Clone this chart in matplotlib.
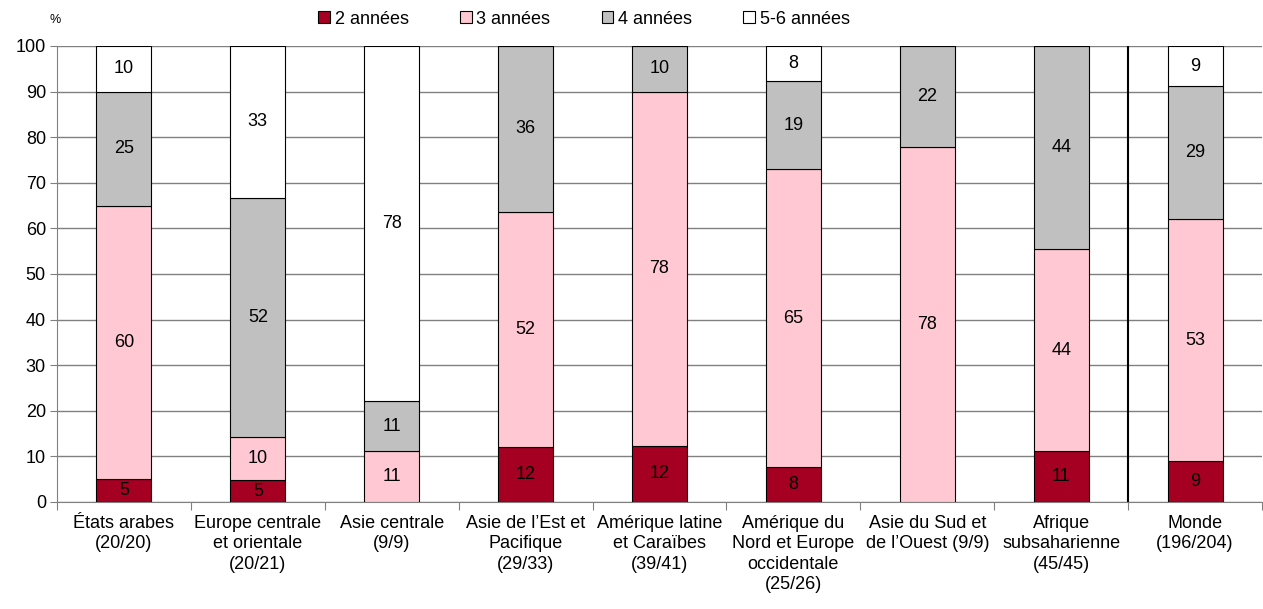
import matplotlib.pyplot as plt
from matplotlib.patches import Patch

plt.rcParams['font.family'] = ['Liberation Sans', 'DejaVu Sans']

# régions et nombre de pays (avec données / total)
regions = ["États arabes\n(20/20)", "Europe centrale\net orientale\n(20/21)", "Asie centrale\n(9/9)",
           "Asie de l’Est et\nPacifique\n(29/33)", "Amérique latine\net Caraïbes\n(39/41)",
           "Amérique du\nNord et Europe\noccidentale\n(25/26)", "Asie du Sud et\nde l’Ouest (9/9)",
           "Afrique\nsubsaharienne\n(45/45)", "Monde\n(196/204)"]

# part des pays selon la durée (%)
deux_ans = [5, 4.8, 0, 12.1, 12.3, 7.7, 0, 11.1, 9.0]
trois_ans = [60, 9.5, 11.1, 51.5, 77.7, 65.3, 77.8, 44.4, 53.0]
quatre_ans = [25, 52.4, 11.1, 36.4, 10.0, 19.3, 22.2, 44.4, 29.2]
cinq_six_ans = [10, 33.3, 77.8, 0, 0, 7.7, 0, 0, 8.8]

series = [deux_ans, trois_ans, quatre_ans, cinq_six_ans]
noms = ["2 années", "3 années", "4 années", "5-6 années"]
couleurs = ["#A50021", "#FFC8D2", "#C0C0C0", "#FFFFFF"]

fig = plt.figure(figsize=(12.63, 6.09), dpi=100)
ax = fig.add_axes([57 / 1263, 1 - 502 / 609, 1 - 58 / 1263, (502 - 46) / 609])

x = list(range(len(regions)))
bas = [0] * len(regions)
for vals, coul in zip(series, couleurs):
    ax.bar(x, vals, 0.41, bottom=bas, color=coul, edgecolor="black", linewidth=0.8, zorder=3)
    for i, v in enumerate(vals):
        if v > 0:
            ax.text(i, bas[i] + v / 2, "%.0f" % v, ha="center", va="center", fontsize=13, zorder=4)
    bas = [b + v for b, v in zip(bas, vals)]

ax.set_xlim(-0.5, len(regions) - 0.5)
ax.set_ylim(0, 100)
ax.set_yticks(range(0, 101, 10))
ax.yaxis.grid(True, color="#808080", linewidth=1, zorder=0)
ax.tick_params(axis="y", labelsize=13, length=5, color="#808080", pad=3)

# séparations entre régions, étiquettes au centre
ax.set_xticks([i + 0.5 for i in range(-1, len(regions))])
ax.set_xticklabels([])
ax.tick_params(axis="x", which="major", length=6, color="#808080")
ax.set_xticks(x, minor=True)
ax.set_xticklabels(regions, minor=True, fontsize=13, linespacing=1.28)
ax.tick_params(axis="x", which="minor", length=0, pad=9)

ax.axvline(7.5, color="black", linewidth=1.5, zorder=2)

for s in ["top", "right"]:
    ax.spines[s].set_visible(False)
ax.spines["left"].set_color("#808080")
ax.spines["bottom"].set_color("#808080")

fig.text(50 / 1263, 1 - 20 / 609, "%", fontsize=9, ha="left", va="center")

handles = [Patch(facecolor=c, edgecolor="black", linewidth=0.8) for c in couleurs]
fig.legend(handles, noms, ncol=4, loc="center", bbox_to_anchor=(584 / 1263, 1 - 19 / 609),
           frameon=False, fontsize=13, handlelength=0.65, handleheight=0.65,
           handletextpad=0.25, columnspacing=2.85)

fig.savefig("out.png", dpi=100)
